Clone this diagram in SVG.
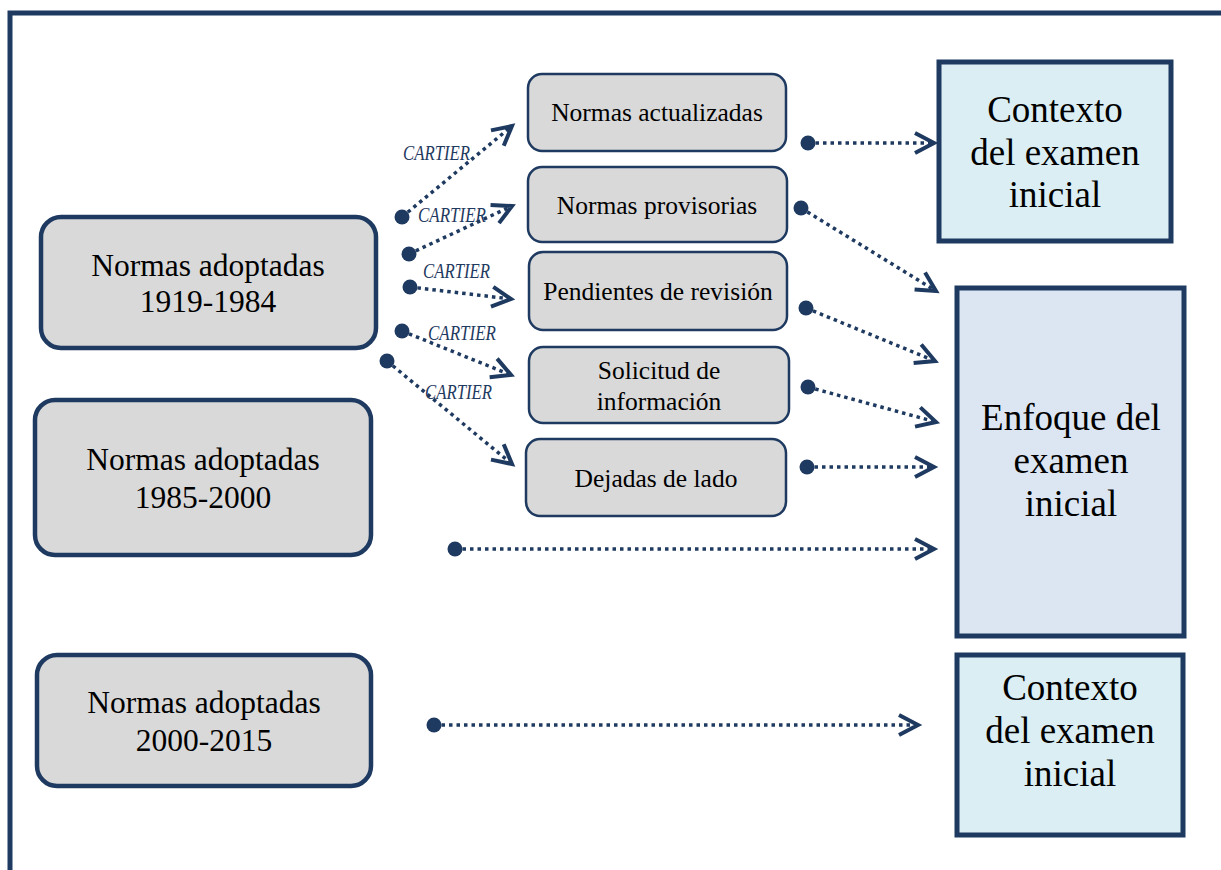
<svg xmlns="http://www.w3.org/2000/svg" width="1221" height="870" viewBox="0 0 1221 870">
<style>
.big{fill:#D9D9D9;stroke:#1F3A60;stroke-width:4.5}
.mid{fill:#D9D9D9;stroke:#1F3A60;stroke-width:2.5}
.ctx{fill:#DAEEF3;stroke:#1F3A60;stroke-width:5}
.enf{fill:#DCE6F2;stroke:#1F3A60;stroke-width:5}
text{font-family:"Liberation Serif","Times New Roman",serif;fill:#000;text-anchor:middle}
.t1{font-size:31.5px}
.t2{font-size:25.5px}
.t3{font-size:37px}
.lab{font-size:20px;font-style:italic;fill:#1F3A60;text-anchor:start}
.ln{fill:none;stroke:#1F3A60;stroke-width:3.5;stroke-dasharray:3.5 4;marker-end:url(#chev)}
.dot{fill:#1F3A60}
</style>
<defs>
<marker id="chev" markerUnits="userSpaceOnUse" markerWidth="30" markerHeight="30" refX="0" refY="0" viewBox="-25 -15 30 30" orient="auto">
<path d="M-19,-10 L0,0 L-19,10" fill="none" stroke="#1F3A60" stroke-width="4"/>
</marker>
</defs>
<rect width="1221" height="870" fill="#fff"/>
<path d="M10,870 V13 H1221" fill="none" stroke="#1F3A60" stroke-width="5"/>

<g id="n-1919">
<rect class="big" x="41" y="217" width="335" height="131" rx="20"/>
<text class="t1" x="208" y="276">Normas adoptadas</text>
<text class="t1" x="208" y="312">1919-1984</text>
</g>
<g id="n-1985">
<rect class="big" x="35" y="400" width="336" height="155" rx="20"/>
<text class="t1" x="203" y="470">Normas adoptadas</text>
<text class="t1" x="203" y="508">1985-2000</text>
</g>
<g id="n-2000">
<rect class="big" x="37" y="655" width="334" height="131" rx="20"/>
<text class="t1" x="204" y="713">Normas adoptadas</text>
<text class="t1" x="204" y="751">2000-2015</text>
</g>

<g id="n-actualizadas">
<rect class="mid" x="528" y="74" width="258" height="77" rx="14"/>
<text class="t2" x="657" y="121">Normas actualizadas</text>
</g>
<g id="n-provisorias">
<rect class="mid" x="528" y="167" width="259" height="75" rx="14"/>
<text class="t2" x="657" y="214">Normas provisorias</text>
</g>
<g id="n-pendientes">
<rect class="mid" x="529" y="252" width="258" height="78" rx="14"/>
<text class="t2" x="658" y="300">Pendientes de revisión</text>
</g>
<g id="n-solicitud">
<rect class="mid" x="529" y="347" width="260" height="76" rx="14"/>
<text class="t2" x="659" y="379">Solicitud de</text>
<text class="t2" x="659" y="410">información</text>
</g>
<g id="n-dejadas">
<rect class="mid" x="526" y="439" width="260" height="77" rx="14"/>
<text class="t2" x="656" y="487">Dejadas de lado</text>
</g>

<g id="n-contexto1">
<rect class="ctx" x="939" y="62" width="232" height="179"/>
<text class="t3" x="1055" y="122">Contexto</text>
<text class="t3" x="1055" y="165">del examen</text>
<text class="t3" x="1055" y="207">inicial</text>
</g>
<g id="n-enfoque">
<rect class="enf" x="957" y="288" width="227" height="348"/>
<text class="t3" x="1071" y="430">Enfoque del</text>
<text class="t3" x="1071" y="473">examen</text>
<text class="t3" x="1071" y="516">inicial</text>
</g>
<g id="n-contexto2">
<rect class="ctx" x="957" y="655" width="226" height="180"/>
<text class="t3" x="1070" y="700">Contexto</text>
<text class="t3" x="1070" y="743">del examen</text>
<text class="t3" x="1070" y="786">inicial</text>
</g>

<g id="connectors">
<circle class="dot" cx="402" cy="217" r="7.5"/>
<path class="ln" d="M402,217 L512,126"/>
<circle class="dot" cx="409" cy="254" r="7.5"/>
<path class="ln" d="M409,254 L512,206"/>
<circle class="dot" cx="410" cy="287" r="7.5"/>
<path class="ln" d="M410,287 L511,299"/>
<circle class="dot" cx="402" cy="331" r="7.5"/>
<path class="ln" d="M402,331 L511,375"/>
<circle class="dot" cx="387" cy="361" r="7.5"/>
<path class="ln" d="M387,361 L512,464"/>

<circle class="dot" cx="808" cy="143" r="7.5"/>
<path class="ln" d="M808,143 L934,143"/>
<circle class="dot" cx="801" cy="208" r="7.5"/>
<path class="ln" d="M801,208 L936,291"/>
<circle class="dot" cx="806" cy="308" r="7.5"/>
<path class="ln" d="M806,308 L935,361"/>
<circle class="dot" cx="808" cy="387" r="7.5"/>
<path class="ln" d="M808,387 L936,422"/>
<circle class="dot" cx="807" cy="467" r="7.5"/>
<path class="ln" d="M807,467 L934,467"/>
<circle class="dot" cx="455" cy="549" r="7.5"/>
<path class="ln" d="M455,549 L934,549"/>
<circle class="dot" cx="434" cy="725" r="7.5"/>
<path class="ln" d="M434,725 L918,725"/>

<text class="lab" x="403" y="160" textLength="67" lengthAdjust="spacingAndGlyphs">CARTIER</text>
<text class="lab" x="418" y="222" textLength="68" lengthAdjust="spacingAndGlyphs">CARTIER</text>
<text class="lab" x="423" y="278" textLength="67" lengthAdjust="spacingAndGlyphs">CARTIER</text>
<text class="lab" x="428" y="340" textLength="68" lengthAdjust="spacingAndGlyphs">CARTIER</text>
<text class="lab" x="425" y="399" textLength="67" lengthAdjust="spacingAndGlyphs">CARTIER</text>
</g>
</svg>
